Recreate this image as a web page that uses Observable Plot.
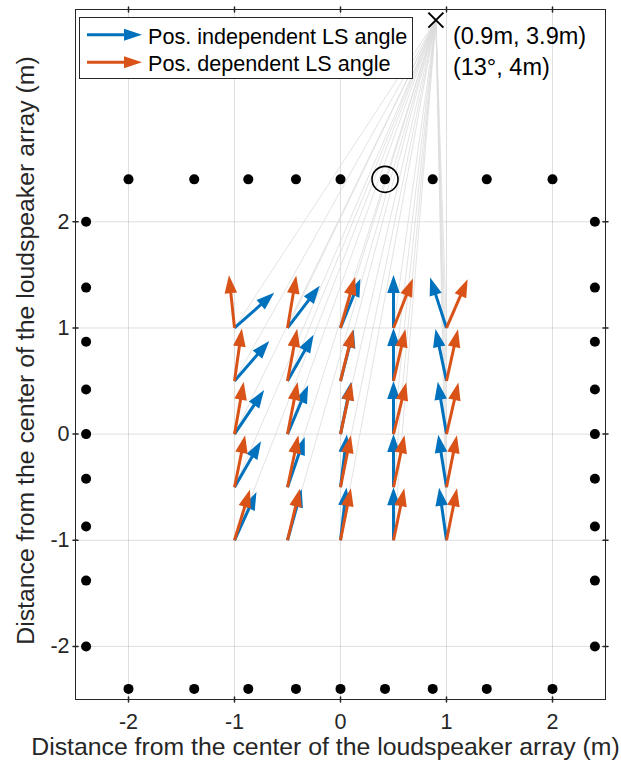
<!DOCTYPE html>
<html><head><meta charset="utf-8">
<script src="https://cdn.jsdelivr.net/npm/d3@7"></script>
<script src="https://cdn.jsdelivr.net/npm/@observablehq/plot@0.6"></script>
<style>
body{margin:0;background:#fff;}
#wrap{position:relative;width:621px;height:760px;font-family:"Liberation Sans",Arial,Helvetica,sans-serif;}
#wrap svg{font-family:"Liberation Sans",Arial,Helvetica,sans-serif;}
#legend{position:absolute;left:0;top:0;pointer-events:none;}
</style></head><body><div id="wrap"></div>
<script>
// ---------- data ----------
const xTicks = [-2, -1, 0, 1, 2];
const yTicks = [-2, -1, 0, 1, 2];
const xLabel = "Distance from the center of the loudspeaker array (m)";
const yLabel = "Distance from the center of the loudspeaker array (m)";
const speakerOffsets = [-2, -1.38, -0.87, -0.42, 0, 0.42, 0.87, 1.38, 2];
const arrayHalfSize = 2.4;
const selectedSpeaker = {x: 0.42, y: 2.4};
const source = {x: 0.9, y: 3.9};
const sourceLabel = ["(0.9m, 3.9m)", "(13°, 4m)"];
const listenerX = [-1, -0.5, 0, 0.5, 1];
const listenerY = [1, 0.5, 0, -0.5, -1];
const arrowLength = 0.5;
// arrow direction, degrees clockwise from +y; rows follow listenerY, columns listenerX
const independentAngles = [
  [48.5, 37.5, 22, 0, -18],
  [41, 29.5, 14.5, 0, -12],
  [34, 23, 11.5, 0, -9.5],
  [30, 19, 7, 0, -9],
  [24.5, 15.5, 6.5, 0, -8]
];
const dependentAngles = [
  [-6, 9.5, 16, 21.5, 23.5],
  [8, 10.5, 13.8, 13, 12.5],
  [10, 11, 12.2, 13.9, 13],
  [11.5, 11.8, 11.3, 12, 11.3],
  [17, 13.5, 11.3, 11.7, 11.4]
];
const seriesNames = ["Pos. independent LS angle", "Pos. dependent LS angle"];
const seriesColors = ["#0072BD", "#D95319"];

// ---------- derived tables ----------
const speakers = [
  ...speakerOffsets.map(o => ({x: o, y: arrayHalfSize})),
  ...speakerOffsets.map(o => ({x: o, y: -arrayHalfSize})),
  ...speakerOffsets.map(o => ({x: -arrayHalfSize, y: o})),
  ...speakerOffsets.map(o => ({x: arrayHalfSize, y: o}))
];
const listeners = listenerY.flatMap(y => listenerX.map(x => ({x, y})));
function buildArrows(angles) {
  return listenerY.flatMap((y, r) => listenerX.map((x, c) => {
    const deg = angles[r][c], a = deg * Math.PI / 180;
    return {x, y, angle: deg,
      x2: x + arrowLength * Math.sin(a), y2: y + arrowLength * Math.cos(a),
      xs: x + 0.76 * arrowLength * Math.sin(a), ys: y + 0.76 * arrowLength * Math.cos(a)};
  }));
}
const arrowSets = [buildArrows(independentAngles), buildArrows(dependentAngles)];

const headShape = {
  draw(context, l) {
    const w = 6.3;
    context.moveTo(0, -l);
    context.lineTo(w, 0);
    context.lineTo(-w, 0);
    context.closePath();
  }
};
const tickShape = {draw(context, l) { context.moveTo(0, 0); context.lineTo(0, -l); }};
const ink = "#262626";

function arrowMarks(data, color) {
  return [
    Plot.link(data, {x1: "x", y1: "y", x2: "xs", y2: "ys", stroke: color, strokeWidth: 3}),
    Plot.vector(data, {x: "x2", y: "y2", rotate: "angle", length: 18, anchor: "end", shape: headShape, fill: color, stroke: "none"})
  ];
}

const chart = Plot.plot({
  width: 621, height: 760,
  marginLeft: 75, marginRight: 16, marginTop: 9, marginBottom: 61,
  style: {fontFamily: '"Liberation Sans", Arial, sans-serif', background: "white"},
  x: {domain: [-2.5, 2.5]},
  y: {domain: [-2.5, 4]},
  marks: [
    Plot.gridX(xTicks, {stroke: ink, strokeOpacity: 0.15}),
    Plot.gridY(yTicks, {stroke: ink, strokeOpacity: 0.15}),
    Plot.link(listeners, {x1: () => source.x, y1: () => source.y, x2: "x", y2: "y", stroke: "#dcdcdc", strokeWidth: 0.8}),
    Plot.dot(speakers, {x: "x", y: "y", r: 5, fill: "black", stroke: "none"}),
    Plot.dot([selectedSpeaker], {x: "x", y: "y", r: 13, stroke: "black", strokeWidth: 1.6, fill: "none"}),
    ...arrowMarks(arrowSets[0], seriesColors[0]),
    ...arrowMarks(arrowSets[1], seriesColors[1]),
    Plot.dot([source], {x: "x", y: "y", symbol: "times", r: 6.9, stroke: "black", strokeWidth: 2}),
    Plot.text([source], {x: "x", y: "y", text: () => sourceLabel.join("\n"), textAnchor: "start", lineAnchor: "top", dx: 17, dy: 1.5, fontSize: 23.5, lineHeight: 1.33, fill: "black"}),
    Plot.frame({stroke: ink}),
    Plot.vector(xTicks, {x: d => d, frameAnchor: "bottom", length: 5, shape: tickShape, stroke: ink}),
    Plot.vector(xTicks, {x: d => d, frameAnchor: "top", length: 5, rotate: 180, shape: tickShape, stroke: ink}),
    Plot.vector(yTicks, {y: d => d, frameAnchor: "left", length: 5, rotate: 90, shape: tickShape, stroke: ink}),
    Plot.vector(yTicks, {y: d => d, frameAnchor: "right", length: 5, rotate: -90, shape: tickShape, stroke: ink}),
    Plot.axisX(xTicks, {tickSize: 0, tickPadding: 14, tickFormat: d => String(d), fontSize: 21.5, fill: ink, label: null}),
    Plot.axisY(yTicks, {tickSize: 0, tickPadding: 6, tickFormat: d => String(d), fontSize: 21.5, fill: ink, label: null}),
    Plot.text([xLabel], {text: d => d, frameAnchor: "bottom", textAnchor: "middle", lineAnchor: "middle", dx: -15, dy: 47.5, fontSize: 24.8, fill: ink}),
    Plot.text([yLabel], {text: d => d, frameAnchor: "left", textAnchor: "middle", lineAnchor: "middle", rotate: -90, dx: -49, dy: -4, fontSize: 24.8, fill: ink})
  ]
});
const wrap = document.getElementById("wrap");
wrap.appendChild(chart);

// ---------- legend (overlay inside the axes box) ----------
const lg = d3.create("svg").attr("id", "legend").attr("width", 621).attr("height", 100);
lg.append("rect").attr("x", 79.5).attr("y", 17.5).attr("width", 333).attr("height", 61)
  .attr("fill", "white").attr("stroke", ink).attr("stroke-width", 1);
seriesNames.forEach((name, i) => {
  const y = 34.7 + i * 27.6;
  lg.append("line").attr("x1", 87).attr("x2", 128).attr("y1", y).attr("y2", y)
    .attr("stroke", seriesColors[i]).attr("stroke-width", 3);
  lg.append("path").attr("d", `M142,${y}L124,${y - 6}L124,${y + 6}Z`).attr("fill", seriesColors[i]);
  lg.append("text").attr("x", 148).attr("y", y + 8.8).attr("font-size", 21.6).attr("fill", "black")
    .text(name);
});
wrap.appendChild(lg.node());
</script></body></html>
